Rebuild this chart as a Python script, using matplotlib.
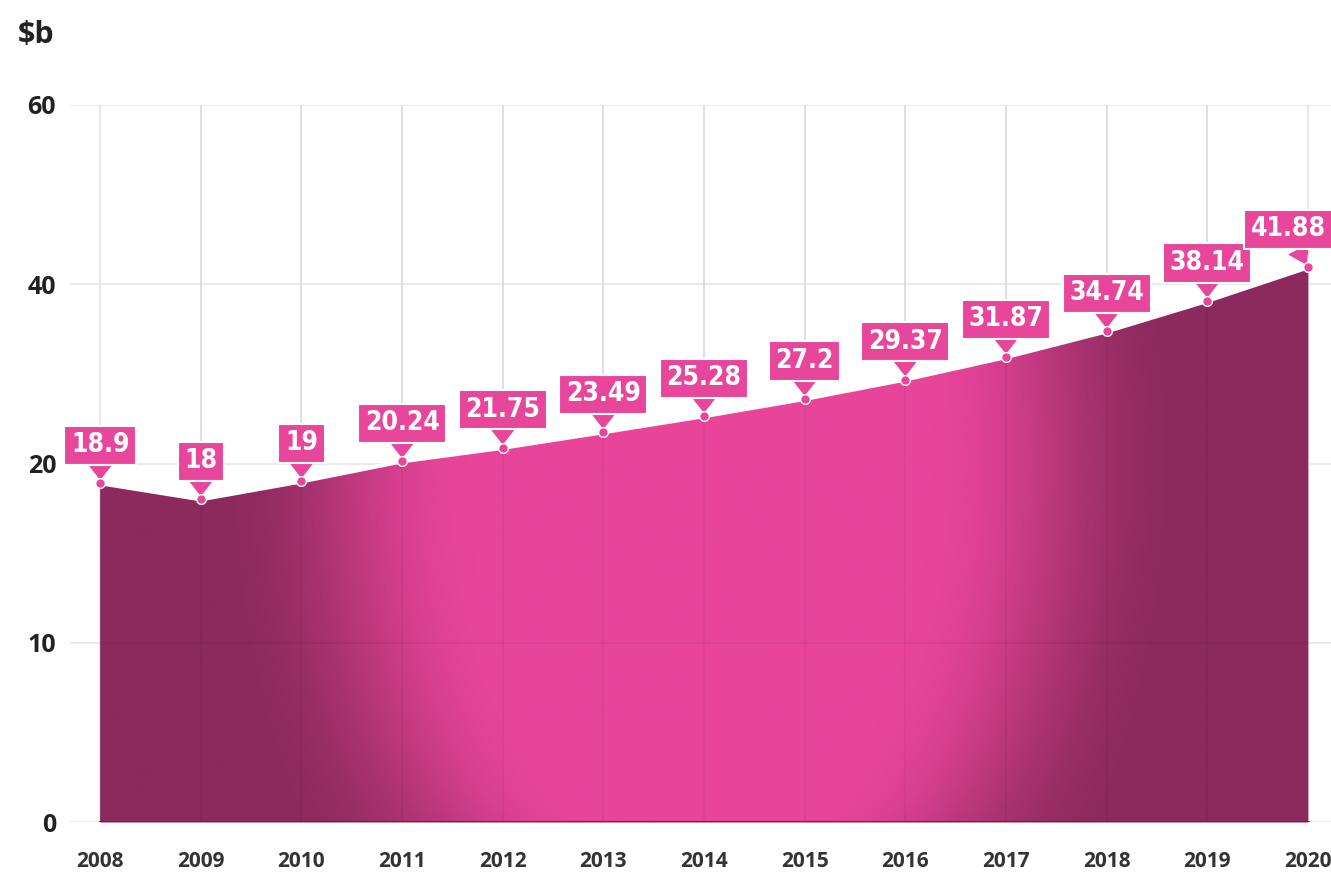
import numpy as np
import matplotlib
matplotlib.use('Agg')
import matplotlib.pyplot as plt
from matplotlib.colors import to_rgb

years = [2008, 2009, 2010, 2011, 2012, 2013, 2014, 2015, 2016, 2017, 2018, 2019, 2020]
values = [18.9, 18, 19, 20.24, 21.75, 23.49, 25.28, 27.2, 29.37, 31.87, 34.74, 38.14, 41.88]
labels = ['18.9', '18', '19', '20.24', '21.75', '23.49', '25.28', '27.2', '29.37',
          '31.87', '34.74', '38.14', '41.88']
y_ticks = [0, 10, 20, 40, 60]

DARK = '#8c2a5e'
BRIGHT = '#e8449a'
BOX = '#e8469b'

# uneven axis: ticks 0,10,20,40,60 are evenly spaced
tick_pos = np.arange(len(y_ticks))
def fwd(v):
    return np.interp(v, y_ticks, tick_pos)
def inv(v):
    return np.interp(v, tick_pos, y_ticks)

fig = plt.figure(figsize=(13.31, 8.74), dpi=100)
ax = fig.add_axes([70 / 1331, 52 / 874, 1261 / 1331, 717 / 874])
ax.set_yscale('function', functions=(fwd, inv))
ax.set_xlim(2007.7, 2020.23)
ax.set_ylim(0, 60)

# grid
for t in y_ticks:
    ax.axhline(t, color='#e6e6e6', lw=1.2, zorder=0)
for yr in years:
    ax.plot([yr, yr], [0, 60], color='#e6e6e6', lw=1.2, zorder=0)

# area with a glow in the middle
coll = ax.fill_between(years, 0, values, color=DARK, lw=0, zorder=1)
ny, nx = 360, 630
U, V = np.meshgrid(np.linspace(0, 1, nx), np.linspace(1, 0, ny))
px = 70 + U * 1261
py = 822 - V * 717
dx = np.abs(px - 700)
dy = py - 460
core = 233 * np.sqrt(np.clip(1 - (dy / 412) ** 2, 0, 1))
outer = 481 * np.sqrt(np.clip(1 - (dy / 708) ** 2, 0, 1))
t = np.clip((dx - core) / (outer - core), 0, 1)
t = t * t * (3 - 2 * t)
c0 = np.array(to_rgb(BRIGHT))
c1 = np.array(to_rgb(DARK))
img = c0[None, None, :] * (1 - t[..., None]) + c1[None, None, :] * t[..., None]
im = ax.imshow(img, extent=(0, 1, 0, 1), transform=ax.transAxes, aspect='auto',
               zorder=2, interpolation='bilinear')
im.set_clip_path(coll.get_paths()[0], coll.get_transform())

# faint grid over the area
for yr in years[1:-1]:
    ax.plot([yr, yr], [0, 60], color='black', alpha=0.05, lw=1.2, zorder=3)
ax.plot([2008, 2020], [10, 10], color='black', alpha=0.05, lw=1.2, zorder=3)
ax.plot([2008, 2020], [0, 0], color='#6a1c45', lw=2, zorder=3)

ax.plot(years, values, color='white', lw=3, zorder=4, solid_capstyle='round')

for i, (x, y, lab) in enumerate(zip(years, values, labels)):
    # last box sits at the right edge, nudge it in
    off_x = -14 if i == len(years) - 1 else 0
    ax.annotate(lab, xy=(x, y), xytext=(off_x, 18), textcoords='offset points',
                ha='center', va='bottom', color='white', fontsize=19,
                family='DejaVu Sans', fontstretch='condensed', fontweight='bold',
                bbox=dict(boxstyle='square,pad=0.25', fc=BOX, ec='white', lw=1.5),
                arrowprops=dict(arrowstyle='wedge,tail_width=0.8,shrink_factor=0.5',
                                fc=BOX, ec=BOX, shrinkA=0, shrinkB=3),
                zorder=6)
    ax.plot(x, y, 'o', ms=7, mfc=BOX, mec='white', mew=1.0, zorder=7)

ax.set_yticks(y_ticks)
ax.set_yticklabels([str(t) for t in y_ticks])
ax.set_xticks(years)
ax.tick_params(axis='y', length=0, pad=10, labelsize=18, labelcolor='#222222')
ax.tick_params(axis='x', length=0, pad=21, labelsize=15, labelcolor='#333333')
for lab in ax.get_yticklabels() + ax.get_xticklabels():
    lab.set_fontfamily('Open Sans')
    lab.set_fontweight('bold')
for s in ax.spines.values():
    s.set_visible(False)
ax.minorticks_off()

fig.text(18 / 1331, 1 - 35 / 874, '$b', fontsize=22, fontweight='bold',
         family='Open Sans', color='#222222', va='center', ha='left')

fig.savefig('out.png', dpi=100)
